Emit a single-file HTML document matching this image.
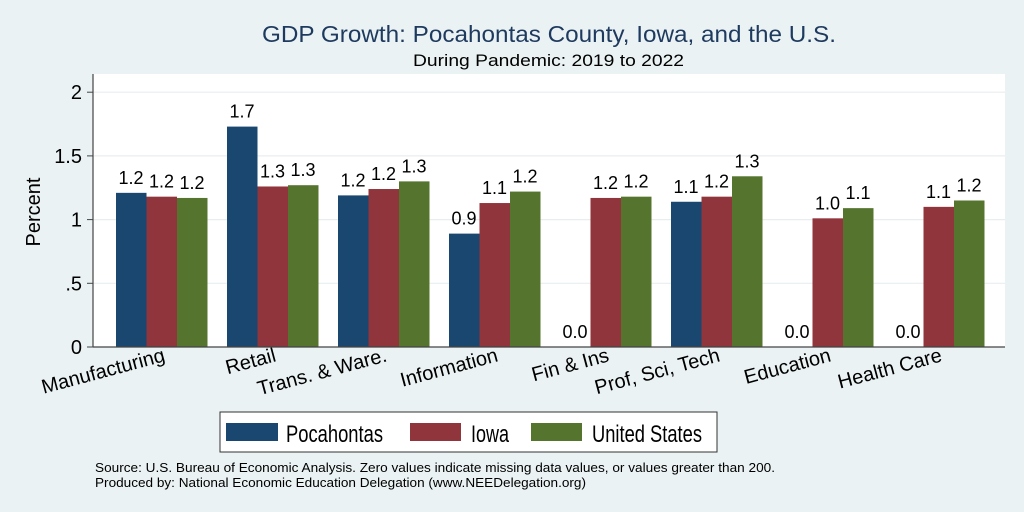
<!DOCTYPE html>
<html><head><meta charset="utf-8"><style>
body{margin:0;background:#eaf2f3;font-family:"Liberation Sans",Arial,sans-serif}
svg{display:block}
</style></head><body>
<svg id="c" width="1024" height="512">
<rect x="0" y="0" width="1024" height="512" fill="#eaf2f3"/>
<rect x="93" y="74" width="912" height="273" fill="#fff"/>
<text x="262" y="42" textLength="574" lengthAdjust="spacingAndGlyphs" font-size="23" fill="#1e3a5f">GDP Growth: Pocahontas County, Iowa, and the U.S.</text>
<text x="413" y="66" textLength="271" lengthAdjust="spacingAndGlyphs" font-size="17" fill="#000">During Pandemic: 2019 to 2022</text>
<text transform="translate(40,212) rotate(-90)" text-anchor="middle" font-size="20">Percent</text>
<g id="grid"></g><g id="bars"></g><g id="labels"></g>
<line x1="93" y1="74" x2="93" y2="347" stroke="#444" stroke-width="1.2"/>
<line x1="93" y1="347" x2="1005" y2="347" stroke="#444" stroke-width="1.2"/>
<rect x="220" y="412" width="497" height="40" fill="#fff" stroke="#333"/>
<rect x="226" y="423" width="52" height="18" fill="#1a476f"/>
<text x="286" y="442" textLength="97" lengthAdjust="spacingAndGlyphs" font-size="24">Pocahontas</text>
<rect x="410" y="423" width="51" height="18" fill="#90353b"/>
<text x="471" y="442" textLength="38" lengthAdjust="spacingAndGlyphs" font-size="24">Iowa</text>
<rect x="531" y="423" width="51" height="18" fill="#55752f"/>
<text x="592" y="442" textLength="110" lengthAdjust="spacingAndGlyphs" font-size="24">United States</text>
<text x="95" y="472" textLength="680" lengthAdjust="spacingAndGlyphs" font-size="13">Source: U.S. Bureau of Economic Analysis. Zero values indicate missing data values, or values greater than 200.</text>
<text x="95" y="487" textLength="491" lengthAdjust="spacingAndGlyphs" font-size="13">Produced by: National Economic Education Delegation (www.NEEDelegation.org)</text>
</svg>
<script>
const categories=["Manufacturing","Retail","Trans. & Ware.","Information","Fin & Ins","Prof, Sci, Tech","Education","Health Care"];
const pocahontas=[1.21,1.73,1.19,0.89,0,1.14,0,0];
const iowa=[1.18,1.26,1.24,1.13,1.17,1.18,1.01,1.10];
const us=[1.17,1.27,1.30,1.22,1.18,1.34,1.09,1.15];
const pocLabels=["1.2","1.7","1.2","0.9","0.0","1.1","0.0","0.0"];
const iowaLabels=["1.2","1.3","1.2","1.1","1.2","1.2","1.0","1.1"];
const usLabels=["1.2","1.3","1.3","1.2","1.2","1.3","1.1","1.2"];
const yTicks=[0,0.5,1,1.5,2];
const yTickLabels=["0",".5","1","1.5","2"];
const NS="http://www.w3.org/2000/svg";
const y=v=>347-v*127.4;
const x=i=>116+i*111;
function mk(t,a,p){const e=document.createElementNS(NS,t);for(const k in a)e.setAttribute(k,a[k]);document.getElementById(p).appendChild(e);return e;}
yTicks.forEach((t,i)=>{
 if(t>0){const g=mk('line',{x1:93,x2:1005,y1:y(t),y2:y(t),stroke:'#e8eef0','stroke-width':1.2},'grid');
 
 }
 const k=mk('line',{x1:87,x2:93,y1:y(t),y2:y(t),stroke:'#444'},'grid');
 
 
 const l=mk('text',{x:82,y:y(t)+7,'text-anchor':'end','font-size':20},'grid');
 
 
 l.textContent=yTickLabels[i];
});
const series=[[pocahontas,pocLabels,'#1a476f','pocahontas'],[iowa,iowaLabels,'#90353b','iowa'],[us,usLabels,'#55752f','us']];
categories.forEach((c,i)=>{
 series.forEach(([d,lb,col,n],j)=>{
  const bx=x(i)+j*30.5;
  const r=mk('rect',{x:bx,y:y(d[i]),width:30.5,height:347-y(d[i]),fill:col},'bars');
  
  
  const t=mk('text',{x:bx+15,y:y(d[i])-9,'text-anchor':'middle','font-size':18},'labels');
  
  
  t.textContent=lb[i];
 });
 const cx=x(i)+50;
 const lab=mk('text',{transform:`translate(${cx},361) rotate(-15)`,'text-anchor':'end','font-size':20},'labels');
 
 
 lab.textContent=c;
});
</script>
</body></html>
